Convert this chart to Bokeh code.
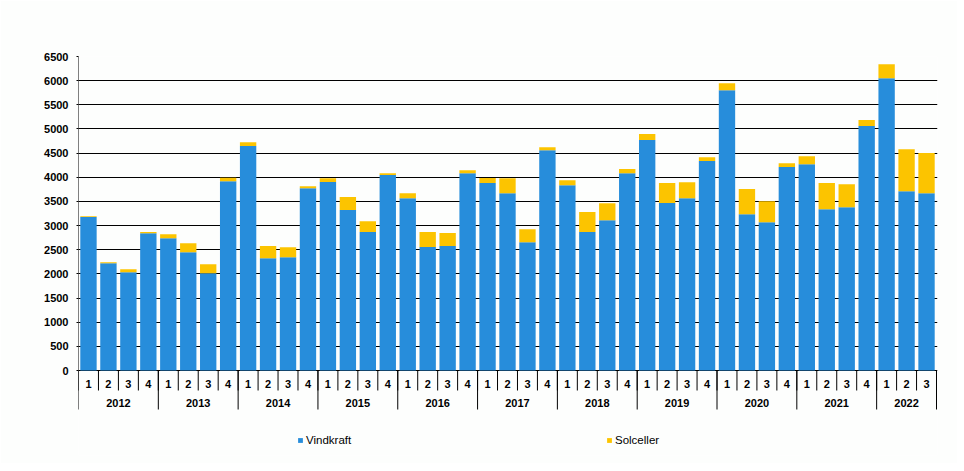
from bokeh.plotting import figure
from bokeh.models import Range1d, FixedTicker, Legend, LegendItem, ColumnDataSource
from bokeh.core.properties import value
from bokeh.embed import file_html
from bokeh.resources import INLINE

years = ["2012", "2013", "2014", "2015", "2016", "2017", "2018", "2019", "2020", "2021", "2022"]
quarters_per_year = [4, 4, 4, 4, 4, 4, 4, 4, 4, 4, 3]
quarter_labels = ["1", "2", "3", "4"]

vindkraft = [3175, 2220, 2035, 2840,
             2740, 2450, 2015, 3920,
             4645, 2325, 2345, 3775,
             3900, 3320, 2865, 4045,
             3565, 2555, 2575, 4085,
             3880, 3670, 2655, 4560,
             3835, 2865, 3110, 4085,
             4770, 3465, 3565, 4335,
             5800, 3235, 3070, 4210,
             4270, 3340, 3380, 5060,
             6050, 3710, 3670]
solceller = [20, 20, 60, 25,
             80, 185, 185, 70,
             80, 250, 205, 40,
             80, 270, 225, 40,
             105, 310, 270, 60,
             105, 310, 270, 60,
             105, 415, 350, 85,
             125, 415, 330, 80,
             145, 520, 435, 80,
             165, 540, 475, 125,
             290, 870, 830]
y_ticks = [0, 500, 1000, 1500, 2000, 2500, 3000, 3500, 4000, 4500, 5000, 5500, 6000, 6500]

BLUE = "#278DDB"
YELLOW = "#FCC400"
BG = "#FDFEFD"
FONT = "Liberation Sans"

# ---- derived positions (category slots) ----
labels_q = []
for n in quarters_per_year:
    labels_q += quarter_labels[:n]
n_bars = len(labels_q)
xs = [i + 0.5 for i in range(n_bars)]
year_centers, year_bounds = [], [0]
start = 0
for n in quarters_per_year:
    year_centers.append(start + n / 2)
    start += n
    year_bounds.append(start)
quarter_bounds = list(range(n_bars + 1))

PLOT_H = 314                    # pixels from 0 to top tick
UPP = y_ticks[-1] / PLOT_H      # data units per pixel
FRAME_H = 399
y_start = -(FRAME_H - PLOT_H) * UPP

p = figure(frame_width=859, frame_height=FRAME_H,
           x_range=Range1d(0, n_bars + 0.05), y_range=Range1d(y_start, y_ticks[-1]),
           output_backend="svg", toolbar_location=None,
           min_border_left=78, min_border_top=56, min_border_right=20, min_border_bottom=8,
           background_fill_color=BG, border_fill_color=BG)
p.outline_line_color = None
p.xaxis.visible = False
p.xgrid.grid_line_color = None

source = ColumnDataSource(dict(x=xs, Vindkraft=vindkraft, Solceller=solceller))
rs = p.vbar_stack(["Vindkraft", "Solceller"], x="x", width=0.82, color=[BLUE, YELLOW],
                  line_color=None, source=source)

# y axis
p.yaxis.ticker = FixedTicker(ticks=y_ticks)
p.yaxis.axis_line_color = None
p.yaxis.major_tick_out = 2
p.yaxis.major_tick_in = 0
p.yaxis.major_tick_line_color = "black"
p.yaxis.minor_tick_line_color = None
p.yaxis.major_label_standoff = 8
p.yaxis.major_label_text_font = FONT
p.yaxis.major_label_text_font_style = "bold"
p.yaxis.major_label_text_font_size = "11px"
p.yaxis.major_label_text_color = "black"
p.ygrid.ticker = FixedTicker(ticks=y_ticks)
p.ygrid.grid_line_color = "black"
p.ygrid.grid_line_width = 1

# value axis line (left edge), from 0 to top tick
p.segment(x0=[0], y0=[y_ticks[0]], x1=[0], y1=[y_ticks[-1]], line_color="black", line_width=1)

# category axis: quarter separators and labels
p.segment(x0=quarter_bounds, y0=0, x1=quarter_bounds, y1=-20 * UPP, line_color="black", line_width=1)
p.segment(x0=year_bounds, y0=0, x1=year_bounds, y1=-39 * UPP, line_color="black", line_width=1)
p.text(x=xs, y=[-13 * UPP] * n_bars, text=labels_q, text_align="center", text_baseline="middle",
       text_font=value(FONT), text_font_style="bold", text_font_size="11px", text_color="black")
p.text(x=year_centers, y=[-32 * UPP] * len(years), text=years, text_align="center",
       text_baseline="middle", text_font=value(FONT), text_font_style="bold",
       text_font_size="11px", text_color="black")

legend = Legend(items=[LegendItem(label="Vindkraft", renderers=[rs[0]]),
                       LegendItem(label="Solceller", renderers=[rs[1]])],
                orientation="horizontal", location=(219, 9),
                glyph_width=6, glyph_height=6, label_standoff=3,
                label_width=290, label_height=13, spacing=10,
                padding=0, margin=0, border_line_color=None, background_fill_alpha=0,
                label_text_font=FONT, label_text_font_size="11.5px", label_text_color="black")
p.add_layout(legend)

open("out.html", "w").write(file_html(p, INLINE))
